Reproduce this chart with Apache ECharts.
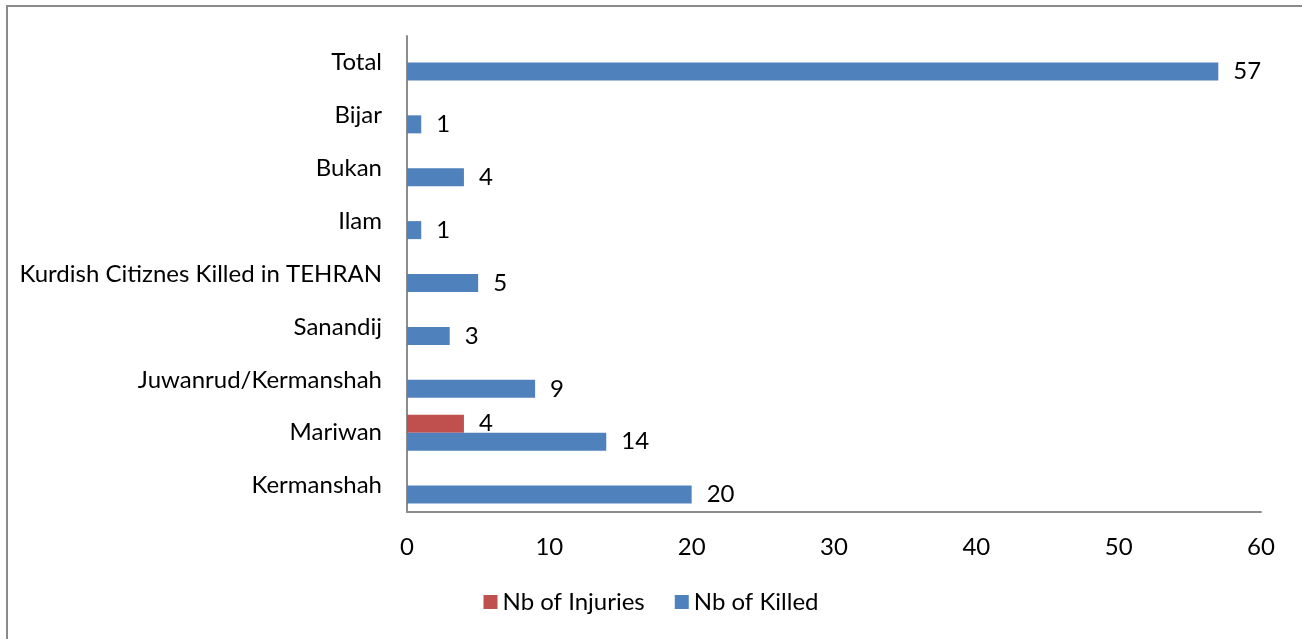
<!DOCTYPE html>
<html>
<head>
<meta charset="utf-8">
<script src="https://cdn.jsdelivr.net/npm/echarts@6/dist/echarts.min.js"></script>
<style>
html,body{margin:0;padding:0;background:#fff;}
#chart{width:1302px;height:639px;}
</style>
</head>
<body>
<div id="chart"></div>
<script>
const categories = ['Kermanshah','Mariwan','Juwanrud/Kermanshah','Sanandij','Kurdish Citiznes Killed in TEHRAN','Ilam','Bukan','Bijar','Total'];
const killed = [20,14,9,3,5,1,4,1,57];
const injuries = [null,4,null,null,null,null,null,null,null];
const xTicks = [0,10,20,30,40,50,60];

const FONT = 'Lato';
const FS = 24;
const chart = echarts.init(document.getElementById('chart'));
chart.setOption({
  animation:false,
  backgroundColor:'#fff',
  graphic:[{type:'rect',shape:{x:7,y:6,width:1400,height:700},style:{fill:'none',stroke:'#8a8a8a',lineWidth:2},z:-1}],
  grid:{left:407,right:41,top:36,bottom:127,containLabel:false},
  legend:{
    data:['Nb of Injuries','Nb of Killed'],
    bottom:20,left:'center',
    itemWidth:14,itemHeight:14,itemGap:30,icon:'rect',
    textStyle:{fontFamily:FONT,fontSize:FS,color:'#000'}
  },
  xAxis:{
    type:'value',min:xTicks[0],max:xTicks[xTicks.length-1],interval:10,
    axisLine:{show:true,lineStyle:{color:'#8c8c8c',width:2}},
    axisTick:{show:false},
    splitLine:{show:false},
    axisLabel:{fontFamily:FONT,fontSize:FS,color:'#000',margin:23}
  },
  yAxis:{
    type:'category',data:categories,
    axisLine:{show:true,lineStyle:{color:'#8c8c8c',width:2}},
    axisTick:{show:false},
    axisLabel:{fontFamily:FONT,fontSize:FS,color:'#000',margin:25}
  },
  series:[
    {name:'Nb of Injuries',type:'bar',data:injuries,barWidth:18,barGap:'0%',
     itemStyle:{color:'#C0504D'},
     label:{show:true,position:'right',distance:15,fontFamily:FONT,fontSize:FS,color:'#000'}},
    {name:'Nb of Killed',type:'bar',data:killed,barWidth:18,barGap:'0%',
     itemStyle:{color:'#4F81BD'},
     label:{show:true,position:'right',distance:15,fontFamily:FONT,fontSize:FS,color:'#000'}}
  ]
});
</script>
</body>
</html>
